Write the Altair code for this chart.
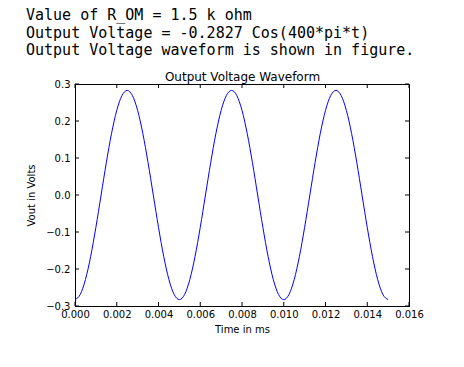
import altair as alt
import pandas as pd

# time samples (s, labelled "ms" on the chart)
times = [0.0, 0.00025, 0.0005, 0.00075, 0.001, 0.00125, 0.0015, 0.00175, 0.002, 0.00225,
         0.0025, 0.00275, 0.003, 0.00325, 0.0035, 0.00375, 0.004, 0.00425, 0.0045, 0.00475,
         0.005, 0.00525, 0.0055, 0.00575, 0.006, 0.00625, 0.0065, 0.00675, 0.007, 0.00725,
         0.0075, 0.00775, 0.008, 0.00825, 0.0085, 0.00875, 0.009, 0.00925, 0.0095, 0.00975,
         0.01, 0.01025, 0.0105, 0.01075, 0.011, 0.01125, 0.0115, 0.01175, 0.012, 0.01225,
         0.0125, 0.01275, 0.013, 0.01325, 0.0135, 0.01375, 0.014, 0.01425, 0.0145, 0.01475,
         0.015]
vout = [-0.2827, -0.2689, -0.2287, -0.1662, -0.0874, 0.0, 0.0874, 0.1662, 0.2287, 0.2689,
        0.2827, 0.2689, 0.2287, 0.1662, 0.0874, 0.0, -0.0874, -0.1662, -0.2287, -0.2689,
        -0.2827, -0.2689, -0.2287, -0.1662, -0.0874, 0.0, 0.0874, 0.1662, 0.2287, 0.2689,
        0.2827, 0.2689, 0.2287, 0.1662, 0.0874, 0.0, -0.0874, -0.1662, -0.2287, -0.2689,
        -0.2827, -0.2689, -0.2287, -0.1662, -0.0874, 0.0, 0.0874, 0.1662, 0.2287, 0.2689,
        0.2827, 0.2689, 0.2287, 0.1662, 0.0874, 0.0, -0.0874, -0.1662, -0.2287, -0.2689,
        -0.2827]
x_ticks = [0.0, 0.002, 0.004, 0.006, 0.008, 0.010, 0.012, 0.014, 0.016]
y_ticks = [-0.3, -0.2, -0.1, 0.0, 0.1, 0.2, 0.3]

header_lines = ["Value of R_OM = 1.5 k ohm",
                "Output Voltage = -0.2827 Cos(400*pi*t)",
                "Output Voltage waveform is shown in figure."]
plot_title = "Output Voltage Waveform"

W, H = 334, 222
df = pd.DataFrame({"t": times, "v": vout})
dfx = pd.DataFrame({"xt": x_ticks})
dfy = pd.DataFrame({"yt": y_ticks})

xscale = alt.Scale(domain=[0, 0.016], nice=False, zero=False)
yscale = alt.Scale(domain=[-0.3, 0.3], nice=False, zero=False)

line = alt.Chart(df).mark_line(color="#0000ff", strokeWidth=1, interpolate="monotone").encode(
    x=alt.X("t:Q", scale=xscale,
            axis=alt.Axis(title="Time in ms", values=x_ticks, format=".3f", ticks=False,
                          labelPadding=3, titlePadding=5, labelFlush=False,
                          labelOverlap=False)),
    y=alt.Y("v:Q", scale=yscale,
            axis=alt.Axis(title="Vout in Volts", values=y_ticks, format=".1f", ticks=False,
                          labelPadding=5, titlePadding=9, labelFlush=False,
                          labelOverlap=False)),
)

xb = alt.Chart(dfx).mark_rule(color="black", strokeWidth=1).encode(
    x=alt.X("xt:Q", scale=xscale,
            axis=alt.Axis(orient="top", title=plot_title, labels=False, ticks=False,
                          domain=False, titleFontSize=12, titlePadding=1)),
    y=alt.value(H), y2=alt.value(H - 4))
xt = alt.Chart(dfx).mark_rule(color="black", strokeWidth=1).encode(
    x=alt.X("xt:Q", scale=xscale, axis=None), y=alt.value(0), y2=alt.value(4))
yl = alt.Chart(dfy).mark_rule(color="black", strokeWidth=1).encode(
    y=alt.Y("yt:Q", scale=yscale, axis=None), x=alt.value(0), x2=alt.value(4))
yr = alt.Chart(dfy).mark_rule(color="black", strokeWidth=1).encode(
    y=alt.Y("yt:Q", scale=yscale, axis=None), x=alt.value(W), x2=alt.value(W - 4))

chart = alt.layer(line, xb, xt, yl, yr).resolve_axis(x="independent", y="independent").properties(
    width=W, height=H,
    background="white",
    autosize=alt.AutoSizeParams(type="none"),
    padding={"left": 67, "top": 76, "right": 47, "bottom": 52},
    title=alt.TitleParams(text=header_lines, anchor="start", frame="group", dx=-49,
                          font="DejaVu Sans Mono", fontSize=15, fontWeight="normal",
                          color="black", lineHeight=17.5, offset=12),
).configure_view(stroke="black", strokeWidth=1).configure_axis(
    labelFont="DejaVu Sans", labelFontSize=10, labelColor="black",
    titleFont="DejaVu Sans", titleFontSize=10, titleColor="black", titleFontWeight="normal",
    domainColor="black", grid=False,
)

chart.save("out.html", embed_options={"renderer": "svg", "actions": False})
